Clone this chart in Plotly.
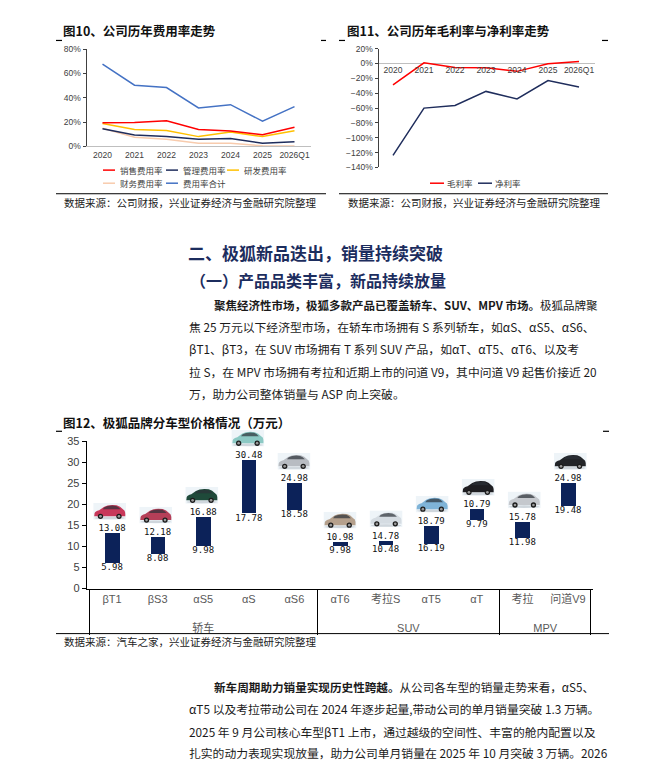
import base64
import plotly.graph_objects as go

W, H = 668, 773

# ---------------- data: 图10 ----------------
years = ["2020", "2021", "2022", "2023", "2024", "2025", "2026Q1"]
sales_rate = [19.5, 19.7, 21.2, 14.0, 12.7, 9.7, 15.8]
admin_rate = [14.6, 9.5, 8.1, 5.9, 6.5, 2.7, 3.8]
rd_rate = [18.9, 14.0, 13.2, 8.1, 11.9, 8.1, 13.0]
fin_rate = [15.0, 7.6, 5.9, 2.7, 2.7, 0.5, 0.3]
total_rate = [67.6, 50.3, 48.4, 31.6, 34.3, 20.8, 32.7]
fee_names = ["销售费用率", "管理费用率", "研发费用率", "财务费用率", "费用率合计"]

# ---------------- data: 图11 ----------------
gross_margin = [-28.7, 0.9, -5.3, -5.7, -10.6, -0.4, 2.7]
net_margin = [-123.8, -60.1, -56.6, -37.6, -47.7, -23.0, -31.8]
margin_names = ["毛利率", "净利率"]

# ---------------- data: 图12 ----------------
models = ["βT1", "βS3", "αS5", "αS", "αS6", "αT6", "考拉S", "αT5", "αT", "考拉", "问道V9"]
segments = ["轿车"] * 5 + ["SUV"] * 4 + ["MPV"] * 2
bar_low = [5.98, 8.08, 9.98, 17.78, 18.58, 9.98, 10.30, 10.48, 16.19, 11.98, 19.48]
bar_high = [13.08, 12.18, 16.88, 30.48, 24.98, 10.98, 11.30, 14.78, 18.79, 15.78, 24.98]
label_high = ["13.08", "12.18", "16.88", "30.48", "24.98", "10.98", "14.78", "18.79", "10.79", "15.78", "24.98"]
label_low = ["5.98", "8.08", "9.98", "17.78", "18.58", "9.98", "10.48", "16.19", "9.79", "11.98", "19.48"]

# ---------------- styles ----------------
RED, NAVY, GOLD, PEACH, BLUE = "#FF0000", "#1F2D5C", "#FFC000", "#F8CBAD", "#4472C4"
BAR = "#0C2259"
car_colors = ["#C8385A", "#B53F58", "#1F4A3A", "#8CC9C4", "#B8BCC2", "#B5A08C",
              "#D5DCE2", "#7FB4D8", "#1E1E22", "#C5C8CD", "#222428"]
CJK = "Noto Sans CJK SC"
LAT = "Liberation Sans"


def px(x):
    return x / W


def py(y):
    return 1 - y / H


def car_svg(color):
    svg = (
        '<svg xmlns="http://www.w3.org/2000/svg" viewBox="0 0 100 50" preserveAspectRatio="none">'
        '<rect width="100" height="50" fill="#eef4f8"/>'
        '<ellipse cx="50" cy="45" rx="46" ry="4" fill="#cfd6dc"/>'
        f'<path d="M3,40 L4,31 Q6,25 18,22 L32,12 Q42,6 58,6 L71,7 Q82,10 90,19 L95,23 Q98,29 97,40 Z" fill="{color}"/>'
        '<path d="M34,13 Q43,8 57,8 L69,9 Q77,12 83,19 L29,19 Z" fill="#2b3138" fill-opacity="0.7"/>'
        '<circle cx="22" cy="40" r="8" fill="#1b1b1b"/><circle cx="22" cy="40" r="4" fill="#9a9a9a"/>'
        '<circle cx="78" cy="40" r="8" fill="#1b1b1b"/><circle cx="78" cy="40" r="4" fill="#9a9a9a"/>'
        '</svg>'
    )
    return "data:image/svg+xml;base64," + base64.b64encode(svg.encode()).decode()


fig = go.Figure()

# ---- chart 1 lines
fee_series = [sales_rate, admin_rate, rd_rate, fin_rate, total_rate]
fee_colors = [RED, NAVY, GOLD, PEACH, BLUE]
draw_order = [3, 1, 2, 0, 4]
for i in draw_order:
    fig.add_trace(go.Scatter(x=years, y=fee_series[i], mode="lines", name=fee_names[i],
                             line=dict(color=fee_colors[i], width=1.5),
                             xaxis="x", yaxis="y", showlegend=False))

# ---- chart 2 lines
fig.add_trace(go.Scatter(x=years, y=gross_margin, mode="lines", name=margin_names[0],
                         line=dict(color=RED, width=1.5), xaxis="x2", yaxis="y2", showlegend=False))
fig.add_trace(go.Scatter(x=years, y=net_margin, mode="lines", name=margin_names[1],
                         line=dict(color=NAVY, width=1.5), xaxis="x2", yaxis="y2", showlegend=False))

# ---- chart 3 floating bars
seg_display = ["<br>" + s for s in segments]   # group labels sit one line lower
xcat = [seg_display, models]
fig.add_trace(go.Bar(x=xcat, y=[h - l for h, l in zip(bar_high, bar_low)], base=bar_low,
                     width=0.32, marker=dict(color=BAR, line=dict(width=0)),
                     xaxis="x3", yaxis="y3", showlegend=False))
fig.add_trace(go.Scatter(x=xcat, y=bar_high, mode="text", text=label_high, textposition="top center",
                         textfont=dict(family="DejaVu Sans Mono", size=9, color="#111111"),
                         xaxis="x3", yaxis="y3", showlegend=False, cliponaxis=False))
fig.add_trace(go.Scatter(x=xcat, y=bar_low, mode="text", text=label_low, textposition="bottom center",
                         textfont=dict(family="DejaVu Sans Mono", size=9, color="#111111"),
                         xaxis="x3", yaxis="y3", showlegend=False, cliponaxis=False))

# ---- axes geometry
x1d = [px(86.5), px(310.5)]
y1d = [py(142.7), py(43.7)]
x2d = [px(377.5), px(594.5)]
y2d = [py(164.0), py(43.3)]
x3d = [px(86.7), px(593.3)]
y3d = [py(591.7), py(442.3)]
g2min, g2max = -140, 20
x2pos = y2d[0] + (0 - g2min) / (g2max - g2min) * (y2d[1] - y2d[0])
y3min, y3max = 0, 35

tick_small = dict(family=LAT, size=8.5, color="#404040")

fig.update_layout(
    width=W, height=H, autosize=False,
    margin=dict(l=0, r=0, t=0, b=0),
    paper_bgcolor="white", plot_bgcolor="rgba(0,0,0,0)",
    font=dict(family=CJK, color="#1a1a1a"),
    bargap=0,
    xaxis=dict(domain=x1d, anchor="y", type="category", showgrid=False, zeroline=False,
               showline=True, linecolor="#BFBFBF", linewidth=1, ticks="",
               tickfont=tick_small, range=[-0.5, 6.5], fixedrange=True),
    yaxis=dict(domain=y1d, anchor="x", range=[0, 80], dtick=20, ticksuffix="%",
               showgrid=False, zeroline=False, showline=True, linecolor="#404040", linewidth=1,
               ticks="outside", ticklen=3, tickcolor="#404040", tickfont=tick_small),
    xaxis2=dict(domain=x2d, anchor="free", position=x2pos, type="category", showgrid=False,
                zeroline=False, showline=False, ticks="", tickfont=tick_small, range=[-0.5, 6.5]),
    yaxis2=dict(domain=y2d, anchor="free", position=x2d[0], range=[g2min, g2max], dtick=20,
                ticksuffix="%", showgrid=False, zeroline=True, zerolinecolor="#BFBFBF", zerolinewidth=1,
                showline=True, linecolor="#404040", linewidth=1, ticks="outside", ticklen=3,
                tickcolor="#404040", tickfont=tick_small),
    xaxis3=dict(domain=x3d, anchor="y3", type="multicategory", showgrid=False, zeroline=False,
                showline=True, linecolor="black", linewidth=1, ticks="",
                showdividers=True, dividercolor="black", dividerwidth=1,
                tickfont=dict(family=LAT + ", " + CJK, size=11, color="#595959")),
    yaxis3=dict(domain=y3d, anchor="x3", range=[y3min, y3max], dtick=5, showgrid=False, zeroline=False,
                showline=True, linecolor="black", linewidth=1, ticks="outside", ticklen=4,
                tickcolor="black", tickfont=dict(family=LAT, size=11, color="#404040")),
)

shapes = []
annotations = []


def hline(x0, x1, y, w=1, color="black"):
    shapes.append(dict(type="line", xref="paper", yref="paper", x0=px(x0), x1=px(x1),
                       y0=py(y), y1=py(y), line=dict(color=color, width=w)))


def text(x, y, s, size, color="#1a1a1a", family=CJK, anchor="left"):
    annotations.append(dict(x=px(x), y=py(y), xref="paper", yref="paper", text=s, showarrow=False,
                            xanchor=anchor, yanchor="middle", align="left",
                            font=dict(family=family, size=size, color=color)))


# titles with corner marks
text(61, 25, "<b>图10、公司历年费用率走势</b>", 12.5, "#111111")
text(345, 25, "<b>图11、公司历年毛利率与净利率走势</b>", 12.5, "#111111")
text(61, 423, "<b>图12、极狐品牌分车型价格情况（万元）</b>", 12.5, "#111111")
for (a, b, y) in [(56, 62, 35), (321, 326, 35), (339, 345, 35), (602, 608, 35), (56, 62, 432), (603, 609, 432)]:
    hline(a, b, y, 1.2)

# source lines
hline(56, 326, 190.7)
hline(339, 608, 190.7)
hline(56, 609, 637.5)
text(62, 200, "数据来源：公司财报，兴业证券经济与金融研究院整理", 10.5, "#222222")
text(346, 200, "数据来源：公司财报，兴业证券经济与金融研究院整理", 10.5, "#222222")
text(62, 646, "数据来源：汽车之家，兴业证券经济与金融研究院整理", 10.5, "#222222")

# manual legends
leg1_pos = [(103, 166.7), (166, 166.7), (227, 166.7), (103, 180), (166, 180)]
for (lx, ly), name, col in zip(leg1_pos, fee_names, fee_colors):
    hline(lx, lx + 12, ly, 1.5, col)
    text(lx + 15, ly, name, 8.5, "#404040")
leg2_pos = [(430, 180), (478, 180)]
for (lx, ly), name, col in zip(leg2_pos, margin_names, [RED, NAVY]):
    hline(lx, lx + 14, ly, 1.5, col)
    text(lx + 15, ly, name, 8.5, "#404040")

# body text
HEAD = "#1C2D5E"
text(186, 250, "<b>二、极狐新品迭出，销量持续突破</b>", 17, HEAD)
text(188, 278.3, "<b>（一）产品品类丰富，新品持续放量</b>", 16, HEAD)
para = [
    (211.7, 303.3, "<b>聚焦经济性市场，极狐多款产品已覆盖轿车、SUV、MPV 市场。</b>极狐品牌聚", 11.5),
    (186.7, 325.9, "焦 25 万元以下经济型市场，在轿车市场拥有 S 系列轿车，如αS、αS5、αS6、", 11.8),
    (186.7, 348.4, "βT1、βT3，在 SUV 市场拥有 T 系列 SUV 产品，如αT、αT5、αT6、以及考", 11.8),
    (186.7, 371.0, "拉 S，在 MPV 市场拥有考拉和近期上市的问道 V9，其中问道 V9 起售价接近 20", 11.8),
    (186.7, 393.5, "万，助力公司整体销量与 ASP 向上突破。", 11.8),
    (211.7, 691.7, "<b>新车周期助力销量实现历史性跨越。</b>从公司各车型的销量走势来看，αS5、", 11.6),
    (186.7, 714.0, "αT5 以及考拉带动公司在 2024 年逐步起量,带动公司的单月销量突破 1.3 万辆。", 11.8),
    (186.7, 736.5, "2025 年 9 月公司核心车型βT1 上市，通过越级的空间性、丰富的舱内配置以及", 11.8),
    (186.7, 758.5, "扎实的动力表现实现放量，助力公司单月销量在 2025 年 10 月突破 3 万辆。2026", 11.8),
]
for x, y, s, fs in para:
    text(x, y, s, fs, "#1a1a1a")

# car pictures above each price range (paper coords derived from the y3 scale)
images = []
n = len(models)
for i, (hi, col) in enumerate(zip(bar_high, car_colors)):
    cx = x3d[0] + (i + 0.5) / n * (x3d[1] - x3d[0])
    ybot = y3d[0] + (hi + 3.3 - y3min) / (y3max - y3min) * (y3d[1] - y3d[0])
    images.append(dict(source=car_svg(col), xref="paper", yref="paper", x=cx, y=ybot,
                       xanchor="center", yanchor="bottom", sizex=px(33), sizey=17 / H,
                       sizing="stretch", layer="above"))

fig.update_layout(shapes=shapes, annotations=annotations, images=images)
fig.write_html("out.html", config={"displayModeBar": False},
               post_script="document.body.style.margin='0';document.body.style.overflow='hidden';")
